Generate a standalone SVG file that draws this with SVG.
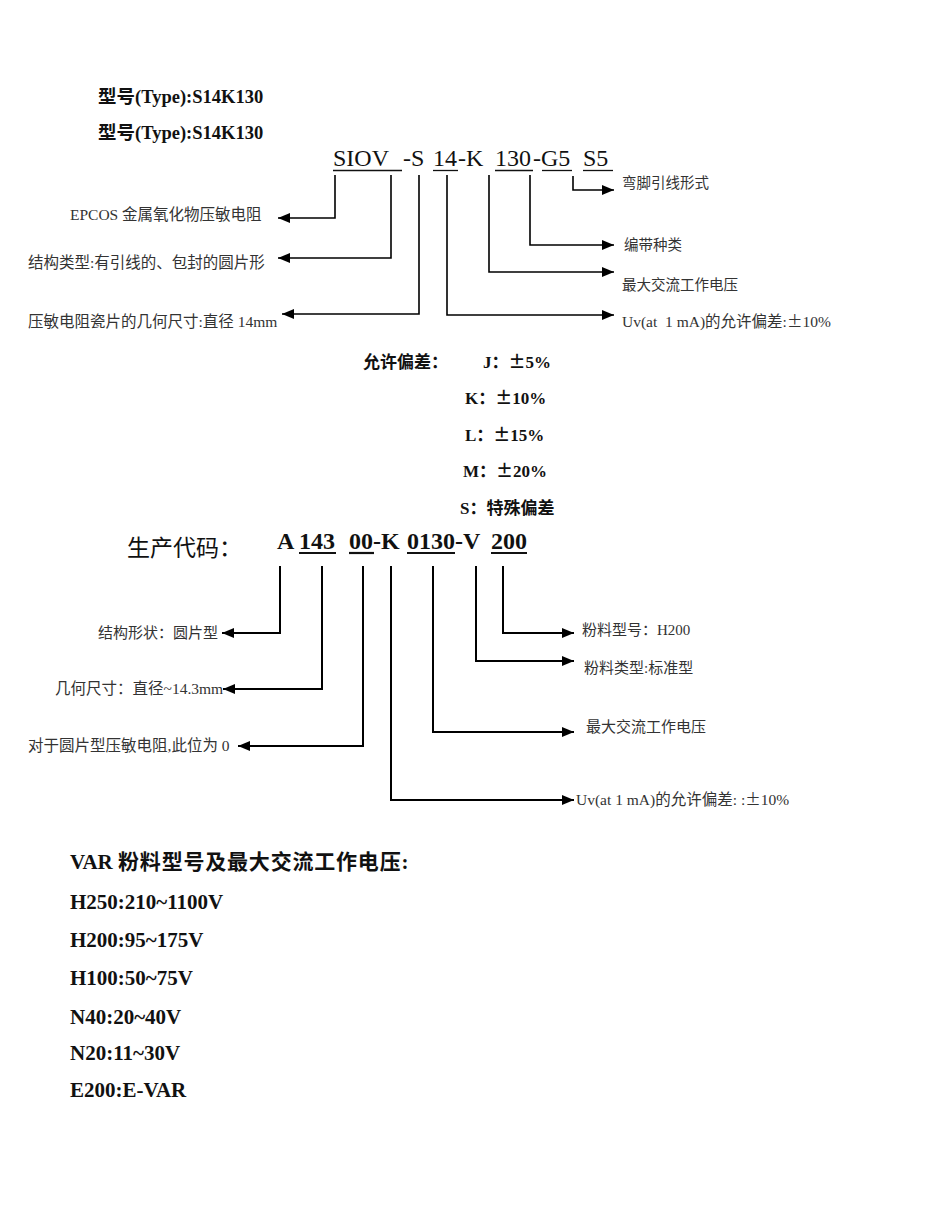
<svg xmlns="http://www.w3.org/2000/svg" width="950" height="1230" viewBox="0 0 950 1230">
<style>
text { font-family: "Liberation Serif", "Noto Sans CJK SC", serif; fill: #111; }
.pm { font-family: "Noto Sans CJK JP", "Noto Sans CJK SC", sans-serif; }
.t18 { font-size: 18.5px; font-weight: bold; }
.code { font-size: 24px; }
.lbl { font-size: 15.5px; fill: #333; }
.lblr { font-size: 14.5px; fill: #333; }
.lbl2 { font-size: 15px; fill: #333; }
.big { font-size: 15.5px; }
.tol { font-size: 17px; font-weight: bold; }
.pc { font-size: 24px; font-weight: bold; }
.pcl { font-size: 23px; }
.var { font-size: 21px; font-weight: bold; }
.ul { stroke: #111; stroke-width: 1.3; fill: none; }
.ulb { stroke: #111; stroke-width: 2.2; fill: none; }
.c1 { stroke: #000; stroke-width: 1.6; fill: none; marker-end: url(#ah); }
.c2 { stroke: #000; stroke-width: 2; fill: none; marker-end: url(#ah); }
</style>
<defs>
<marker id="ah" markerUnits="userSpaceOnUse" markerWidth="12" markerHeight="10" refX="12" refY="5" orient="auto">
<path d="M0,0 L12,5 L0,10 z" fill="#000"/>
</marker>
</defs>
<rect width="950" height="1230" fill="#fff"/>

<g id="title">
<text class="t18" x="98" y="103">型号(Type):S14K130</text>
<text class="t18" x="98" y="139">型号(Type):S14K130</text>
</g>

<g id="siov-code">
<text class="code" y="166"><tspan x="333">SIOV</tspan><tspan x="403">-S</tspan><tspan x="433">14</tspan><tspan x="458">-K</tspan><tspan x="495">130</tspan><tspan x="533">-</tspan><tspan x="541">G5</tspan><tspan x="583">S5</tspan></text>
<line class="ul" x1="333" y1="170.5" x2="402" y2="170.5"/>
<line class="ul" x1="433" y1="170.5" x2="458" y2="170.5"/>
<line class="ul" x1="495" y1="170.5" x2="533" y2="170.5"/>
<line class="ul" x1="542" y1="170.5" x2="572" y2="170.5"/>
<line class="ul" x1="583" y1="170.5" x2="613" y2="170.5"/>
</g>

<g id="top-labels">
<text class="lbl" x="70" y="220">EPCOS 金属氧化物压敏电阻</text>
<text class="lbl" x="28" y="268">结构类型:有引线的、包封的圆片形</text>
<text class="lbl" x="28" y="327">压敏电阻瓷片的几何尺寸:直径 14mm</text>
<text class="lblr" x="622" y="188">弯脚引线形式</text>
<text class="lblr" x="624" y="250">编带种类</text>
<text class="lblr" x="622" y="290">最大交流工作电压</text>
<text class="lblr big" x="622" y="327" xml:space="preserve">Uv(at  1 mA)的允许偏差:<tspan class="pm">±</tspan>10%</text>
</g>

<g id="top-connectors">
<path class="c1" d="M335,175 V218 H278"/>
<path class="c1" d="M391,175 V258 H278"/>
<path class="c1" d="M419,175 V314 H282"/>
<path class="c1" d="M447,175 V315 H614"/>
<path class="c1" d="M489,175 V272 H614"/>
<path class="c1" d="M530,175 V245 H614"/>
<path class="c1" d="M573,176 V190 H614"/>
</g>

<g id="tolerance">
<text class="tol" x="363" y="368">允许偏差：</text>
<text class="tol" x="483" y="368">J：<tspan class="pm">±</tspan>5%</text>
<text class="tol" x="465" y="404">K：<tspan class="pm">±</tspan>10%</text>
<text class="tol" x="465" y="441">L：<tspan class="pm">±</tspan>15%</text>
<text class="tol" x="463" y="477">M：<tspan class="pm">±</tspan>20%</text>
<text class="tol" x="460" y="514">S：特殊偏差</text>
</g>

<g id="production-code">
<text class="pcl" x="127" y="556">生产代码：</text>
<text class="pc" y="549"><tspan x="277">A</tspan><tspan x="299">143</tspan><tspan x="349">00-K</tspan><tspan x="407">0130-V</tspan><tspan x="491">200</tspan></text>
<line class="ulb" x1="299" y1="553" x2="336" y2="553"/>
<line class="ulb" x1="349" y1="553" x2="374" y2="553"/>
<line class="ulb" x1="407" y1="553" x2="455" y2="553"/>
<line class="ulb" x1="491" y1="553" x2="527" y2="553"/>
</g>

<g id="bottom-labels">
<text class="lbl2" x="98" y="638">结构形状：圆片型</text>
<text class="lbl2 big" x="55" y="694">几何尺寸：直径~14.3mm</text>
<text class="lbl2 big" x="28" y="751">对于圆片型压敏电阻,此位为 0</text>
<text class="lbl2" x="582" y="635">粉料型号：H200</text>
<text class="lbl2" x="584" y="673">粉料类型:标准型</text>
<text class="lbl2" x="586" y="732">最大交流工作电压</text>
<text class="lbl2 big" x="576" y="805">Uv(at 1 mA)的允许偏差: :<tspan class="pm">±</tspan>10%</text>
</g>

<g id="bottom-connectors">
<path class="c2" d="M280,566 V633 H222"/>
<path class="c2" d="M322,566 V689 H223"/>
<path class="c2" d="M363,566 V746 H238"/>
<path class="c2" d="M391,566 V800 H574"/>
<path class="c2" d="M433,566 V732 H574"/>
<path class="c2" d="M476,566 V661 H574"/>
<path class="c2" d="M503,566 V633 H574"/>
</g>

<g id="var-list">
<text class="var" x="70" y="869">VAR <tspan letter-spacing="0.8">粉料型号及最大交流工作电压</tspan>:</text>
<text class="var" x="70" y="909">H250:210~1100V</text>
<text class="var" x="70" y="947">H200:95~175V</text>
<text class="var" x="70" y="985">H100:50~75V</text>
<text class="var" x="70" y="1024">N40:20~40V</text>
<text class="var" x="70" y="1060">N20:11~30V</text>
<text class="var" x="70" y="1097">E200:E-VAR</text>
</g>
</svg>
